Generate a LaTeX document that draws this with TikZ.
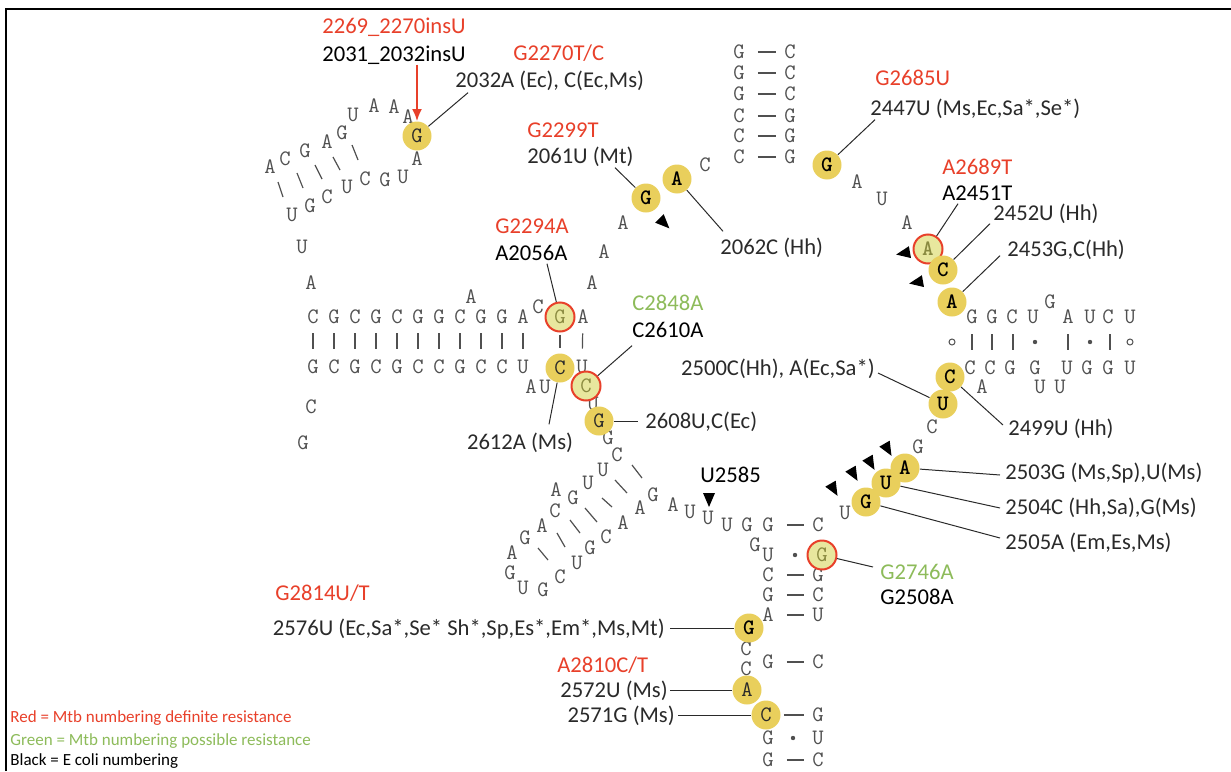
\documentclass[tikz,border=0pt]{standalone}
\usepackage{fontspec}
\setmainfont{Carlito}
\newfontfamily\ntbold{Latin Modern Mono Light}
\usetikzlibrary{arrows.meta,calc}
\definecolor{mtbred}{HTML}{E8402A}
\definecolor{mtbgreen}{HTML}{8DBB5A}
\definecolor{hitfill}{HTML}{E9CF5C}
\definecolor{ringfill}{HTML}{E8E79E}
\definecolor{ringtext}{HTML}{8A8A40}
\definecolor{ntgray}{HTML}{505050}
\definecolor{labgray}{HTML}{2A2A2A}

\begin{document}
\begin{tikzpicture}[
  x=0.5pt, y=-0.5pt,
  nt/.style={font=\fontsize{11}{11}\selectfont\ttfamily, text=ntgray, inner sep=0pt, text height=6.7pt, text depth=0pt},
  hit/.style={circle, fill=hitfill, minimum size=14.5pt, inner sep=0pt, text height=6.7pt, text depth=0pt, font=\fontsize{11}{11}\selectfont\ttfamily, text=labgray},
  hitb/.style={hit, font=\fontsize{11}{11}\selectfont\ntbold\bfseries, text=black},
  ring/.style={hit, draw=mtbred, line width=1pt, fill=ringfill, text=ringtext},
  ringb/.style={ring, font=\fontsize{11}{11}\selectfont\ntbold\bfseries},
  lab/.style={font=\fontsize{11.3}{12}\selectfont, text=labgray, inner sep=0pt, text height=7.3pt, text depth=0pt, anchor=west},
  redlab/.style={lab, text=mtbred},
  grnlab/.style={lab, text=mtbgreen},
  ecolab/.style={lab, text=black},
  keytext/.style={font=\fontsize{8.5}{9}\selectfont, inner sep=0pt, text height=5.5pt, text depth=0pt, anchor=west},
  leader/.style={draw=labgray, line width=0.5pt},
  pair/.style={draw=ntgray, line width=0.6pt, shorten <=6.4pt, shorten >=4pt},
  bar/.style={draw=ntgray, line width=0.6pt, shorten <=4.6pt, shorten >=5.6pt},
  bond/.style={draw=ntgray, line width=0.6pt},
  cleave/.pic={\fill (4.5pt,0) -- (-2.5pt,3pt) -- (-2.5pt,-3pt) -- cycle;}
]
\useasboundingbox (0,0) rectangle (1231,771);
\draw[line width=1.2pt] (6,771) -- (6,9) -- (1231,9);

% top-left hairpin
\foreach \x/\y/\b [count=\i] in {270/167/A,285/159/C,305/151/G,327/142/A,342/133/G,353/115/U,374/106/A,394/107/A,408/117/A,417/159/A,403/177/U,385/180/G,365/179/C,347/187/U,327/197/C,310/206/G,292/215/U,302/247/U,311/283/A}
  \node[nt] (hp\i) at (\x,\y) {\b};
\foreach \a/\b/\c/\d in {278/182/283/197,297/173/303/188,315/165/322/179,333/157/340/170,352/145/358/160}
  \draw[bond] (\a,\b) -- (\c,\d);

% top stem
\foreach \y/\l/\r [count=\i] in {52/G/C,73/G/C,94/G/C,116/C/G,136/C/G,157/C/G} {
  \node[nt] (tl\i) at (739,\y) {\l};
  \node[nt] (tr\i) at (790,\y) {\r};
  \draw[pair] (tl\i) -- (tr\i);
}
\foreach \x/\y/\b [count=\i] in {705/165/C,623/223/A,604/252/A,857/182/A,882/199/U,907/223/A}
  \node[nt] (lp\i) at (\x,\y) {\b};

% long helix
\foreach \x/\t/\b [count=\i] in {313/C/G,334/G/C,355/C/G,376/G/C,397/C/G,418/G/C,439/G/C,460/C/G,481/G/C,502/G/C,523/A/U} {
  \node[nt] (lt\i) at (\x,317) {\t};
  \node[nt] (lb\i) at (\x,367) {\b};
  \draw[bar] (lt\i) -- (lb\i);
}
\foreach \x/\y/\b [count=\i] in {471/297/A,538/307/C,592/283/A,583/317/A,582/367/U,531/387/A,545/387/U,593/404/U,608/438/G,617/455/C,311/407/C,303/443/G}
  \node[nt] (lx\i) at (\x,\y) {\b};
\draw[bar] (lx4) -- (lx5);

% lower-left hairpin
\foreach \x/\y/\b [count=\i] in {603/470/U,588/483/U,573/498/G,556/490/A,555/511/C,542/526/A,525/538/G,512/553/A,510/573/G,523/588/U,543/590/G,560/577/C,577/563/U,590/548/G,606/537/C,623/523/A,640/508/A,653/495/G,673/505/A,690/512/U,708/518/U,727/525/U,747/525/G}
  \node[nt] (ll\i) at (\x,\y) {\b};
\foreach \a/\b/\c/\d in {632/465/642/478,615/480/627/493,602/498/612/507,585/508/597/522,570/520/580/533,557/533/565/547,538/548/548/560}
  \draw[bond] (\a,\b) -- (\c,\d);

% bottom stem
\foreach \y/\l/\r [count=\i] in {525/G/C,575/C/G,595/G/C,615/A/U,662/G/C,738/G/U,760/G/C} {
  \node[nt] (bl\i) at (768,\y) {\l};
  \node[nt] (br\i) at (818,\y) {\r};
}
\foreach \i in {1,2,3,4,5,7} \draw[pair] (bl\i) -- (br\i);
\fill[ntgray] ($(bl6)!0.5!(br6)$) circle[radius=1.1pt];
\foreach \x/\y/\b [count=\i] in {755/545/G,768/555/U,746/649/C,746/669/C,845/513/U,918/447/G,932/427/C}
  \node[nt] (bx\i) at (\x,\y) {\b};
\node[nt] (br8) at (818,715) {G};
\fill[ntgray] (795,555) circle[radius=1.1pt];

% small right helix
\foreach \x/\b [count=\i] in {972/G,992/G,1012/C,1033/U,1068/A,1090/U,1108/C,1130/U}
  \node[nt] (st\i) at (\x,317) {\b};
\foreach \x/\b [count=\i] in {970/C,990/C,1010/G,1035/G,1067/U,1087/G,1108/G,1130/U}
  \node[nt] (sb\i) at (\x,368) {\b};
\foreach \x/\y/\b [count=\i] in {1050/302/G,982/387/A,1040/387/U,1060/387/U}
  \node[nt] (sx\i) at (\x,\y) {\b};
\foreach \x in {972,992,1013,1068,1110} \draw[bond] (\x,334) -- (\x,350);
\foreach \x in {1035,1090} \fill[ntgray] (\x,342) circle[radius=1.1pt];
\foreach \x in {952,1130} \draw[ntgray, line width=0.5pt] (\x,342) circle[radius=1.5pt];

% highlighted bases
\node[hit] (g2270) at (417,136) {G};
\node[hitb] (g2061) at (646,198) {G};
\node[hitb] (a2062) at (677,179) {A};
\node[hitb] (g2447) at (827,165) {G};
\node[ringb] (a2451) at (928,249) {A};
\node[hitb] (c2452) at (943,270) {C};
\node[hitb] (a2453) at (952,302) {A};
\node[hitb] (c2499) at (950,377) {C};
\node[hitb] (u2500) at (943,404) {U};
\node[hitb] (a2503) at (905,468) {A};
\node[hitb] (u2504) at (886,483) {U};
\node[hitb] (g2505) at (866,502) {G};
\node[ring] (g2056) at (560,317) {G};
\node[hit] (c2612) at (560,368) {C};
\node[ring] (c2610) at (586,386) {C};
\node[hit] (g2608) at (599,421) {G};
\node[ring] (g2746) at (822,555) {G};
\node[hitb] (g2576) at (749,628) {G};
\node[hit] (a2572) at (747,690) {A};
\node[hit] (c2571) at (766,715) {C};
\draw[bar, shorten <=1pt, shorten >=2.5pt] (g2056) -- (c2612);
\draw[pair, shorten <=1.5pt] (c2571) -- (br8);

% cleavage marks
\pic[rotate=-45] at (663,222) {cleave};
\pic[rotate=190] at (905,253) {cleave};
\pic[rotate=190] at (918,282) {cleave};
\foreach \x/\y in {887/448,870/462,853/473,833/488}
  \pic[rotate=-60] at (\x,\y) {cleave};
\pic[rotate=-90] at (709,498) {cleave};

% labels
\node[redlab, anchor=center] (l2269) at (394,26) {2269\_2270insU};
\node[ecolab, anchor=center] (l2031) at (394,54) {2031\_2032insU};
\node[redlab] (l2270) at (513,53) {G2270T/C};
\node[lab] (l2032) at (455,80) {2032A (Ec), C(Ec,Ms)};
\node[redlab] (l2299) at (527,130) {G2299T};
\node[lab] (l2061) at (527,156) {2061U (Mt)};
\node[lab] (l2062) at (720,247) {2062C (Hh)};
\node[redlab] (l2685) at (875,78) {G2685U};
\node[lab] (l2447) at (870,108) {2447U (Ms,Ec,Sa*,Se*)};
\node[redlab] (l2689) at (942,167) {A2689T};
\node[ecolab] (l2451) at (942,193) {A2451T};
\node[lab] (l2452) at (993,213) {2452U (Hh)};
\node[lab] (l2453) at (1007,249) {2453G,C(Hh)};
\node[redlab] (l2294) at (495,226) {G2294A};
\node[ecolab] (l2056) at (495,253) {A2056A};
\node[grnlab] (l2848) at (632,303) {C2848A};
\node[ecolab] (l2610) at (632,330) {C2610A};
\node[lab, anchor=east] (l2500) at (875,368) {2500C(Hh), A(Ec,Sa*)};
\node[lab] (l2499) at (1008,428) {2499U (Hh)};
\node[lab] (l2608) at (645,421) {2608U,C(Ec)};
\node[lab, anchor=center] (l2612) at (520,442) {2612A (Ms)};
\node[ecolab] (l2585) at (700,475) {U2585};
\node[lab] (l2503) at (1005,472) {2503G (Ms,Sp),U(Ms)};
\node[lab] (l2504) at (1005,507) {2504C (Hh,Sa),G(Ms)};
\node[lab] (l2505) at (1005,542) {2505A (Em,Es,Ms)};
\node[grnlab] (l2746) at (880,572) {G2746A};
\node[ecolab] (l2508) at (880,597) {G2508A};
\node[redlab] (l2814) at (275,593) {G2814U/T};
\node[lab, anchor=east] (l2576) at (665,628) {2576U (Ec,Sa*,Se* Sh*,Sp,Es*,Em*,Ms,Mt)};
\node[redlab] (l2810) at (557,665) {A2810C/T};
\node[lab, anchor=east] (l2572) at (668,690) {2572U (Ms)};
\node[lab, anchor=east] (l2571) at (675,715) {2571G (Ms)};

% leaders
\draw[mtbred, line width=1pt, -{Latex[length=6pt,width=5pt]}] ($(l2031.south)+(23,3)$) -- (g2270);
\draw[leader] (g2270) -- ($(l2032.south west)+(13,5)$);
\draw[leader] ($(l2061.south west)+(88,4)$) -- (g2061);
\draw[leader] (a2062) -- ($(l2062.north west)+(3,-8)$);
\draw[leader] (g2447) -- ($(l2447.south west)+(5,4)$);
\draw[leader] (a2451) -- ($(l2451.south west)+(16,3)$);
\draw[leader] (c2452) -- ($(l2452.south west)+(-3,3)$);
\draw[leader] (a2453) -- ($(l2453.south west)+(-7,-1)$);
\draw[leader] ($(l2500.east)+(3,5)$) -- (u2500);
\draw[leader] (c2499) -- ($(l2499.west)+(-5,-3)$);
\draw[leader] (a2503) -- ($(l2503.west)+(-5,3)$);
\draw[leader] (u2504) -- ($(l2504.west)+(-5,1)$);
\draw[leader] (g2505) -- ($(l2505.west)+(-5,-4)$);
\draw[leader] (g2746) -- ($(l2746.west)+(-7,-5)$);
\draw[leader] ($(l2576.east)+(5,0)$) -- (g2576);
\draw[leader] ($(l2572.east)+(2,0)$) -- (a2572);
\draw[leader] ($(l2571.east)+(3,0)$) -- (c2571);
\draw[leader] (g2608) -- ($(l2608.west)+(-7,0)$);
\draw[leader] (c2612) -- ($(l2612.north)+(29,-10)$);
\draw[leader] (g2056) -- ($(l2056.south west)+(52,3)$);
\draw[leader] (c2610) -- ($(l2610.south west)+(0,8)$);

% key
\node[keytext, text=mtbred] (key1) at (10,717) {Red = Mtb numbering definite resistance};
\node[keytext, text=mtbgreen] (key2) at (10,740) {Green = Mtb numbering possible resistance};
\node[keytext, text=black] (key3) at (10,760) {Black = E coli numbering};
\end{tikzpicture}
\end{document}
